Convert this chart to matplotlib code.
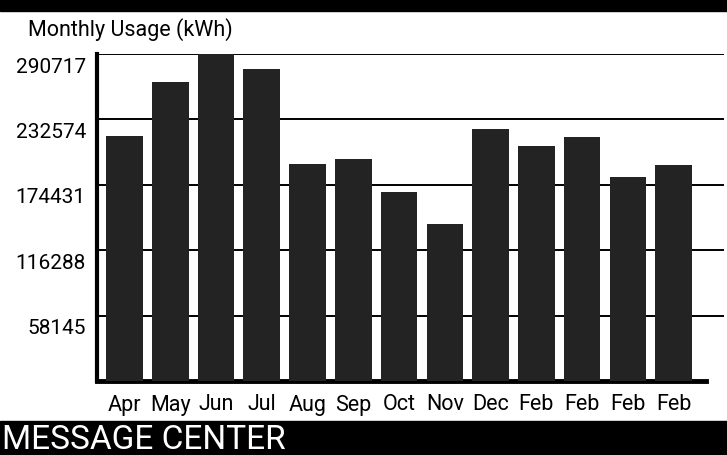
import matplotlib
matplotlib.use("Agg")
import matplotlib.pyplot as plt
import matplotlib.transforms as mtransforms
from matplotlib.patches import Rectangle

plt.rcParams['font.family'] = ['Roboto', 'DejaVu Sans']

months = ["Apr", "May", "Jun", "Jul", "Aug", "Sep", "Oct", "Nov", "Dec", "Feb", "Feb", "Feb", "Feb"]
usage = [218000, 265500, 290500, 277000, 192700, 197600, 168000, 140000, 224000, 208600, 217300, 181500, 191700]
yticks = [58145, 116288, 174431, 232574, 290717]
ytick_labels = ["58145", "116288", "174431", "232574", "290717"]
title = "Monthly Usage (kWh)"
footer = "MESSAGE CENTER"

W, H = 727, 456
fig = plt.figure(figsize=(W / 100, H / 100), dpi=100)

def px(x0, y0, x1, y1):
    return [x0 / W, 1 - y1 / H, (x1 - x0) / W, (y1 - y0) / H]

ax = fig.add_axes(px(97, 55, 724, 382))
x = list(range(len(months)))
ax.bar(x, usage, width=0.8, color="#232323", zorder=3)
ax.set_xlim(-0.6, 13.1)
ax.set_ylim(0, 290717)
ax.set_yticks(yticks)
ax.set_yticklabels(ytick_labels)
ax.set_xticks(x)
ax.set_xticklabels(months)
ax.tick_params(axis='y', length=0, labelsize=15, colors='black', pad=8)
ax.tick_params(axis='x', length=0, labelsize=15.5, colors='black', pad=9)
ax.grid(axis='y', color='black', linewidth=1.4, zorder=1)
for s in ['right', 'top']:
    ax.spines[s].set_visible(False)
ax.spines['left'].set_linewidth(3)
ax.spines['bottom'].set_linewidth(3.5)
ax.spines['bottom'].set_bounds(-0.6, 12.7)

# y tick labels sit slightly below their gridlines, as in the reference
offset = mtransforms.ScaledTranslation(0, -10 / 100, fig.dpi_scale_trans)
for lab in ax.get_yticklabels():
    lab.set_transform(lab.get_transform() + offset)

fig.text(28 / W, 1 - 30 / H, title, fontsize=15.5, ha='left', va='center')

# top black band and bottom message-center band
fig.add_artist(Rectangle((0, 1 - 12 / H), 1, 12 / H, transform=fig.transFigure,
                         color='black', zorder=0))
fig.add_artist(Rectangle((0, 0), 1, 34 / H, transform=fig.transFigure,
                         color='black', zorder=0))
fig.text(2 / W, 16 / H, footer, fontsize=24, color='white', ha='left', va='center')

fig.savefig("out.png", dpi=100, facecolor='white')
